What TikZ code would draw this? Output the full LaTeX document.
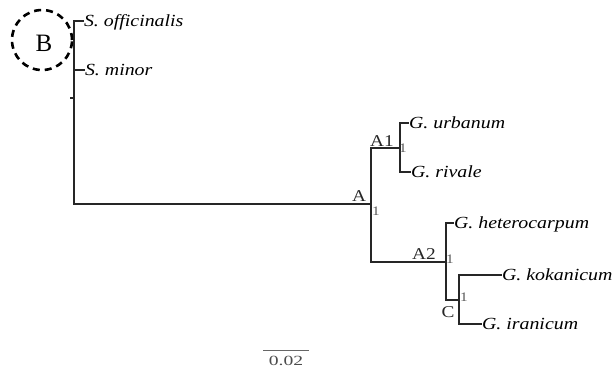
\documentclass[tikz,border=0pt]{standalone}
\usepackage{fontspec}
\setmainfont{Liberation Serif}
\newfontfamily\wideserif[FakeStretch=1.17]{Liberation Serif}
\newfontfamily\widerserif[FakeStretch=1.4]{Liberation Serif}
\begin{document}
\begin{tikzpicture}[x=1bp,y=-1bp,
  branch/.style={line width=1.8bp,draw=black!85},
  leaf/.style={anchor=west,inner sep=0pt,outer sep=0pt,text height=11bp,text depth=0bp,
    font=\wideserif\itshape\fontsize{17bp}{19bp}\selectfont},
  clade/.style={inner sep=0pt,font=\wideserif\fontsize{16.5bp}{18bp}\selectfont,text=black!85},
  support/.style={inner sep=0pt,font=\wideserif\fontsize{13bp}{15bp}\selectfont,text=black!65}]
\useasboundingbox (0,0) rectangle (614,367);
% internal points
\coordinate (R) at (74,204);
\coordinate (A) at (371,204);
\coordinate (A1) at (400,148);
\coordinate (A2) at (446,262);
\coordinate (C) at (459,300);
\coordinate (tkA) at (70,98);
\coordinate (tkB) at (74,98);
% leaves
\node[leaf] (off) at (84,21) {S. officinalis};
\node[leaf] (min) at (85,70) {S. minor};
\node[leaf] (urb) at (409,123) {G. urbanum};
\node[leaf] (riv) at (411,172) {G. rivale};
\node[leaf] (het) at (454,223) {G. heterocarpum};
\node[leaf] (kok) at (502,275) {G. kokanicum};
\node[leaf] (ira) at (482,324) {G. iranicum};
% branches
\draw[branch] (A) -- (R) |- (off.west);
\draw[branch] (R) |- (min.west);
\draw[branch] (tkA) -- (tkB);
\draw[branch] (A) |- (A1);
\draw[branch] (A) |- (A2);
\draw[branch] (A1) |- (urb.west);
\draw[branch] (A1) |- (riv.west);
\draw[branch] (A2) |- (het.west);
\draw[branch] (A2) |- (C);
\draw[branch] (C) |- (kok.west);
\draw[branch] (C) |- (ira.west);
% clade labels
\node[clade] (lA) at (359,196) {A};
\node[clade] (lA1) at (382,141) {A1};
\node[clade] (lA2) at (424,254) {A2};
\node[clade] (lC) at (448,312) {C};
% support values
\node[support] (sA) at (376,211) {1};
\node[support] (sA1) at (403,148) {1};
\node[support] (sA2) at (450,259) {1};
\node[support] (sC) at (464,297) {1};
% scale bar
\coordinate (sbL) at (263,350);
\coordinate (sbR) at (309,350);
\draw[line width=1bp,draw=black!60] (sbL) -- (sbR);
\node[inner sep=0pt,anchor=base,font=\widerserif\fontsize{14bp}{16bp}\selectfont,text=black!70] (sbT) at (286,365) {0.02};
% B circle
\node[draw=black,line width=2.6bp,dash pattern=on 7bp off 5bp,circle,minimum size=60bp,inner sep=0pt] (B) at (42,40) {};
\node[inner sep=0pt,font=\fontsize{25bp}{27bp}\selectfont] (Bt) at (44,43) {B};
\end{tikzpicture}
\end{document}
